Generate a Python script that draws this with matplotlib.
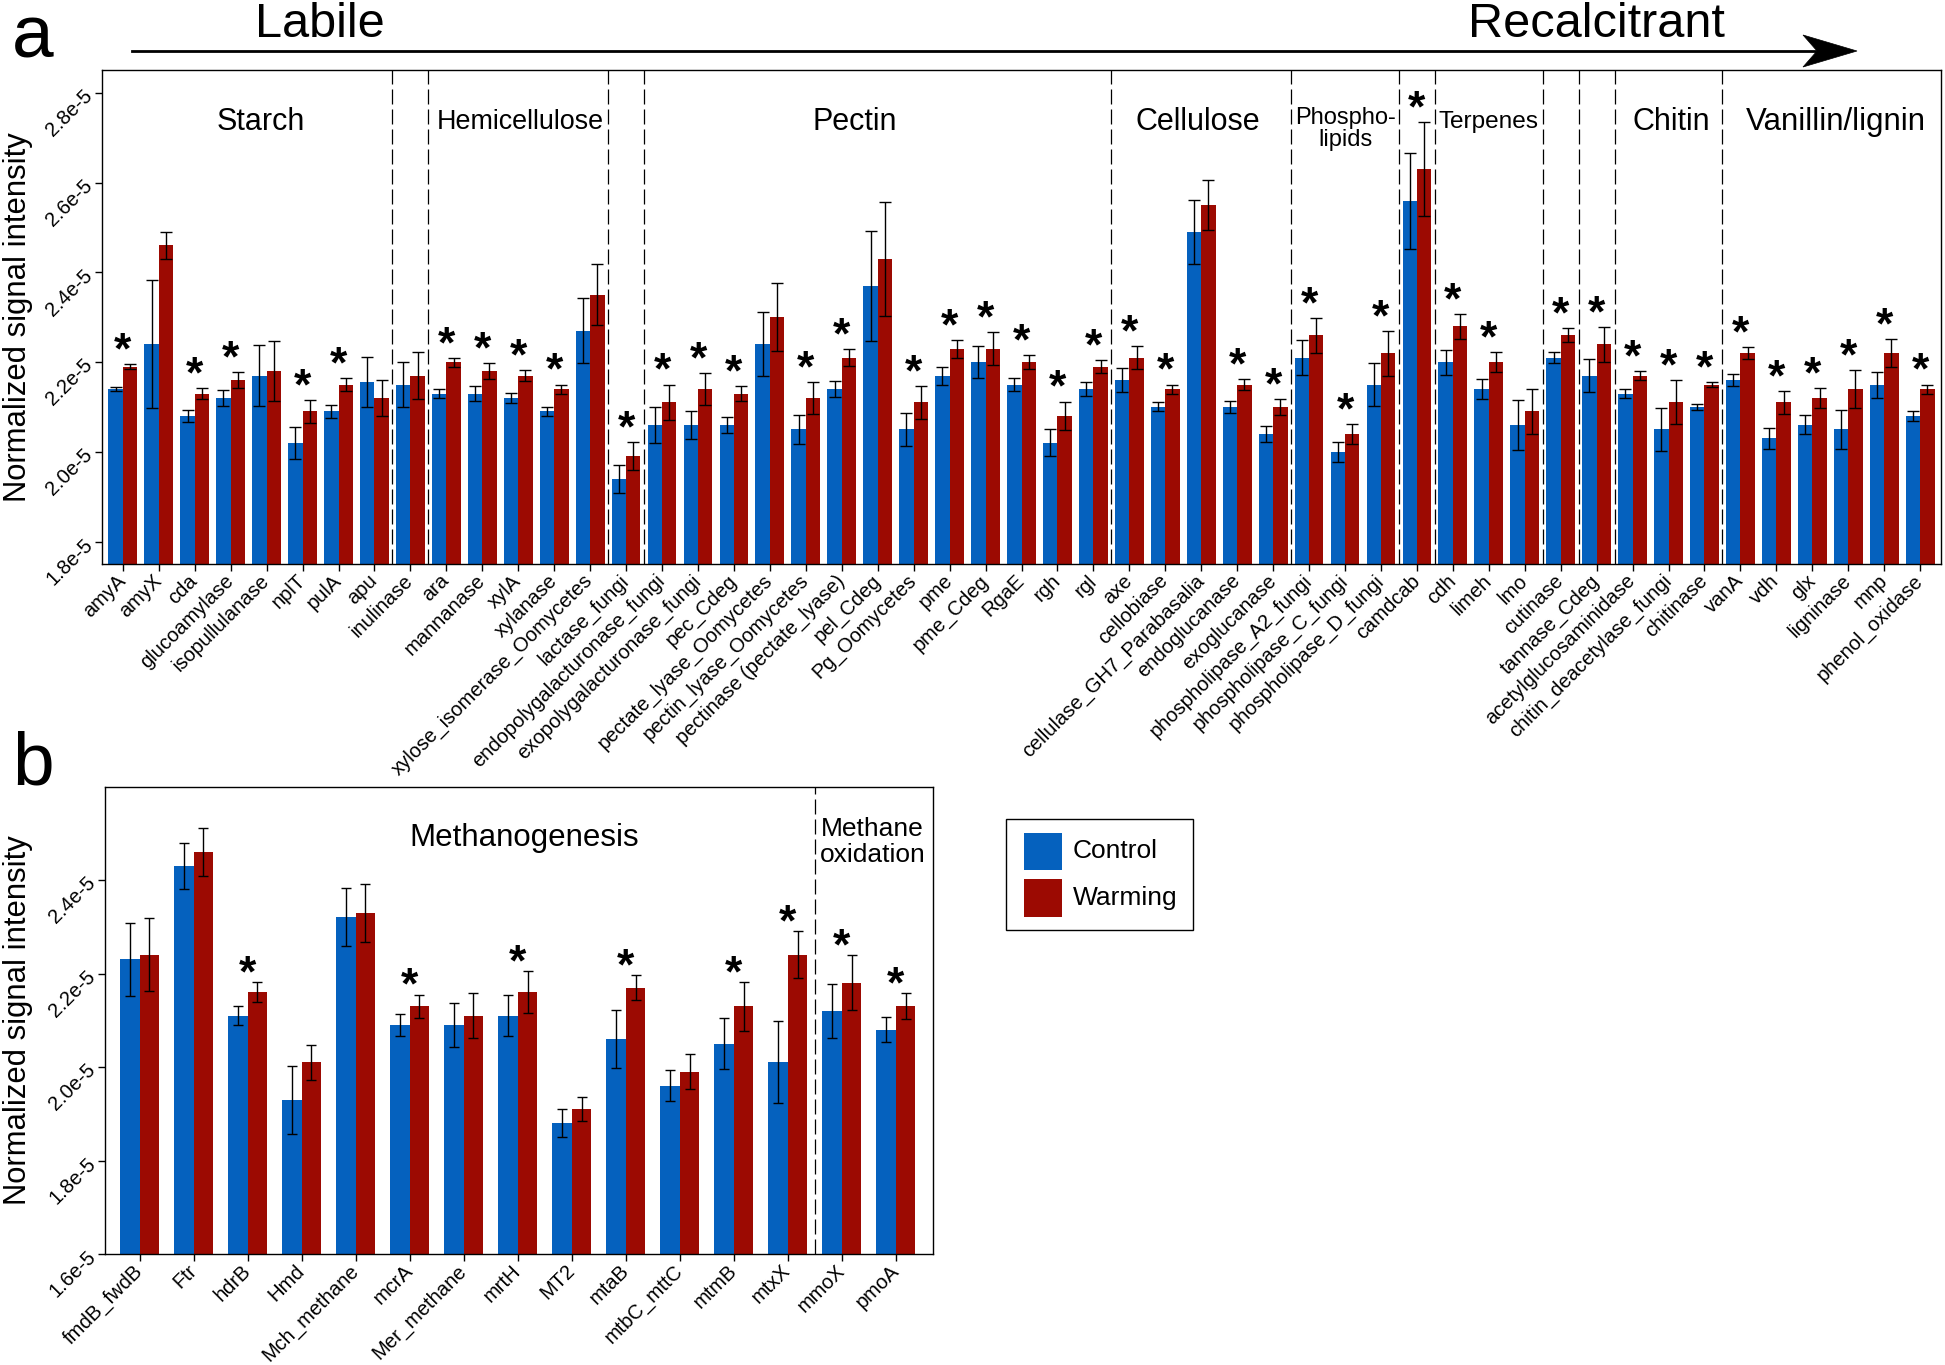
import matplotlib
matplotlib.use("Agg")
import matplotlib.pyplot as plt
import numpy as np
from matplotlib.lines import Line2D
from matplotlib.patches import Polygon, Rectangle
from matplotlib.ticker import FuncFormatter

plt.rcParams["font.family"] = ["Liberation Sans", "DejaVu Sans"]

SCALE = 1e-5
BLUE = "#0561BE"
RED = "#9C0A02"

# ---- panel a: carbon degradation genes (values in units of 1e-5) ----
genes_a = [
    "amyA", "amyX", "cda", "glucoamylase", "isopullulanase", "nplT", "pulA", "apu",
    "inulinase",
    "ara", "mannanase", "xylA", "xylanase", "xylose_isomerase_Oomycetes",
    "lactase_fungi",
    "endopolygalacturonase_fungi", "exopolygalacturonase_fungi", "pec_Cdeg",
    "pectate_lyase_Oomycetes", "pectin_lyase_Oomycetes", "pectinase (pectate_lyase)",
    "pel_Cdeg", "Pg_Oomycetes", "pme", "pme_Cdeg", "RgaE", "rgh", "rgl",
    "axe", "cellobiase", "cellulase_GH7_Parabasalia", "endoglucanase", "exoglucanase",
    "phospholipase_A2_fungi", "phospholipase_C_fungi", "phospholipase_D_fungi",
    "camdcab",
    "cdh", "limeh", "lmo",
    "cutinase",
    "tannase_Cdeg",
    "acetylglucosaminidase", "chitin_deacetylase_fungi", "chitinase",
    "vanA", "vdh", "glx", "ligninase", "mnp", "phenol_oxidase",
]
control_a = [2.14, 2.24, 2.08, 2.12, 2.17, 2.02, 2.09, 2.155,
             2.15,
             2.13, 2.13, 2.12, 2.09, 2.27,
             1.94,
             2.06, 2.06, 2.06, 2.24, 2.05, 2.14, 2.37, 2.05, 2.17, 2.20, 2.15, 2.02, 2.14,
             2.16, 2.10, 2.49, 2.10, 2.04,
             2.21, 2.00, 2.15,
             2.56,
             2.20, 2.14, 2.06,
             2.21,
             2.17,
             2.13, 2.05, 2.10,
             2.16, 2.03, 2.06, 2.05, 2.15, 2.08]
control_err_a = [0.004, 0.143, 0.013, 0.017, 0.067, 0.036, 0.014, 0.056,
                 0.051,
                 0.010, 0.016, 0.012, 0.010, 0.073,
                 0.031,
                 0.040, 0.032, 0.017, 0.071, 0.032, 0.018, 0.123, 0.036, 0.020, 0.036, 0.015, 0.030, 0.015,
                 0.026, 0.010, 0.072, 0.013, 0.017,
                 0.039, 0.023, 0.047,
                 0.107,
                 0.028, 0.022, 0.056,
                 0.013,
                 0.036,
                 0.010, 0.048, 0.007,
                 0.014, 0.023, 0.021, 0.043, 0.029, 0.011]
warming_a = [2.19, 2.46, 2.13, 2.16, 2.18, 2.09, 2.15, 2.12,
             2.17,
             2.20, 2.18, 2.17, 2.14, 2.35,
             1.99,
             2.11, 2.14, 2.13, 2.30, 2.12, 2.21, 2.43, 2.11, 2.23, 2.23, 2.20, 2.08, 2.19,
             2.21, 2.14, 2.55, 2.15, 2.10,
             2.26, 2.04, 2.22,
             2.63,
             2.28, 2.20, 2.09,
             2.26,
             2.24,
             2.17, 2.11, 2.15,
             2.22, 2.11, 2.12, 2.14, 2.22, 2.14]
warming_err_a = [0.005, 0.030, 0.012, 0.018, 0.067, 0.025, 0.015, 0.040,
                 0.052,
                 0.010, 0.017, 0.012, 0.010, 0.068,
                 0.031,
                 0.040, 0.035, 0.017, 0.076, 0.036, 0.019, 0.127, 0.036, 0.020, 0.037, 0.015, 0.032, 0.015,
                 0.025, 0.010, 0.056, 0.012, 0.018,
                 0.039, 0.022, 0.050,
                 0.104,
                 0.028, 0.023, 0.050,
                 0.015,
                 0.039,
                 0.010, 0.049, 0.006,
                 0.014, 0.025, 0.022, 0.043, 0.031, 0.010]
signif_a = [1, 0, 1, 1, 0, 1, 1, 0,
            0,
            1, 1, 1, 1, 0,
            1,
            1, 1, 1, 0, 1, 1, 0, 1, 1, 1, 1, 1, 1,
            1, 1, 0, 1, 1,
            1, 1, 1,
            1,
            1, 1, 0,
            1,
            1,
            1, 1, 1,
            1, 1, 1, 1, 1, 1]
group_sizes_a = [8, 1, 5, 1, 13, 5, 3, 1, 3, 1, 1, 3, 6]
group_text_a = ["Starch", "Hemicellulose", "Pectin", "Cellulose", "Phospho-\nlipids",
                "Terpenes", "Chitin", "Vanillin/lignin"]
group_text_x_a = [3.84, 11.07, 20.35, 29.9, 34.02, 37.99, 43.07, 47.65]
group_text_size_a = [22, 19.4, 22, 22, 17, 17.6, 22, 22.5]

# ---- panel b: methane cycling genes ----
genes_b = ["fmdB_fwdB", "Ftr", "hdrB", "Hmd", "Mch_methane", "mcrA", "Mer_methane",
           "mrtH", "MT2", "mtaB", "mtbC_mttC", "mtmB", "mtxX", "mmoX", "pmoA"]
control_b = [2.23, 2.43, 2.11, 1.93, 2.32, 2.09, 2.09, 2.11, 1.88, 2.06, 1.96, 2.05, 2.01, 2.12, 2.08]
control_err_b = [0.078, 0.049, 0.021, 0.073, 0.062, 0.024, 0.048, 0.044, 0.030, 0.063, 0.033,
                 0.055, 0.088, 0.057, 0.027]
warming_b = [2.24, 2.46, 2.16, 2.01, 2.33, 2.13, 2.11, 2.16, 1.91, 2.17, 1.99, 2.13, 2.24, 2.18, 2.13]
warming_err_b = [0.078, 0.051, 0.021, 0.037, 0.062, 0.025, 0.048, 0.045, 0.026, 0.027, 0.038,
                 0.052, 0.050, 0.059, 0.028]
signif_b = [0, 0, 1, 0, 0, 1, 0, 1, 0, 1, 0, 1, 1, 1, 1]
group_sizes_b = [13, 2]
group_text_b = ["Methanogenesis", "Methane\noxidation"]
group_text_x_b = [7.13, 13.57]
group_text_size_b = [22.5, 19]

W, H = 1945, 1365
fig = plt.figure(figsize=(W / 100, H / 100), dpi=100)


def fx(px):
    return px / W


def fy(py):
    return 1 - py / H


def draw_panel(ax, genes, ctrl, ctrl_err, warm, warm_err, signif, width, xlim, ylim,
               yticks, group_sizes, star_offset, cap):
    x = np.arange(len(genes))
    ctrl = np.array(ctrl) * SCALE
    warm = np.array(warm) * SCALE
    ctrl_err = np.array(ctrl_err) * SCALE
    warm_err = np.array(warm_err) * SCALE

    ax.bar(x - width / 2, ctrl, width, color=BLUE, zorder=2)
    ax.bar(x + width / 2, warm, width, color=RED, zorder=2)
    for xs, ys, es in [(x - width / 2, ctrl, ctrl_err), (x + width / 2, warm, warm_err)]:
        ax.errorbar(xs, ys, yerr=es, fmt="none", ecolor="black", elinewidth=1.0,
                    capsize=cap, capthick=1.0, zorder=3)

    for i in np.flatnonzero(signif):
        top = max(ctrl[i] + ctrl_err[i], warm[i] + warm_err[i])
        ax.annotate("*", (x[i], top), xytext=(0, star_offset), textcoords="offset points",
                    ha="center", va="baseline", fontsize=32, fontweight="bold", zorder=4)

    for b in np.cumsum(group_sizes)[:-1]:
        ax.axvline(b - 0.5, color="black", lw=0.9, dashes=(12, 4), zorder=1)

    ax.set_xlim(*xlim)
    ax.set_ylim(ylim[0] * SCALE, ylim[1] * SCALE)
    ax.set_yticks(np.array(yticks) * SCALE)
    ax.yaxis.set_major_formatter(FuncFormatter(lambda v, p: f"{v / SCALE:.1f}e-5"))
    ax.set_xticks(x)
    ax.set_xticklabels(genes)
    ax.tick_params(axis="both", length=5, width=1.0, labelsize=14.5)
    ax.tick_params(axis="x", pad=5)
    ax.tick_params(axis="y", pad=4)
    for lab in ax.get_xticklabels():
        lab.set(rotation=45, ha="right", va="center", rotation_mode="anchor")
    for lab in ax.get_yticklabels():
        lab.set(rotation=45, ha="right", va="center", rotation_mode="anchor")
    for sp in ax.spines.values():
        sp.set_linewidth(1.0)


# panel a
ax_a = fig.add_axes([fx(102), fy(564), fx(1941) - fx(102), fy(70) - fy(564)])
draw_panel(ax_a, genes_a, control_a, control_err_a, warming_a, warming_err_a, signif_a,
           0.4, (-0.58, len(genes_a) - 0.42), (1.750, 2.851),
           [1.8, 2.0, 2.2, 2.4, 2.6, 2.8], group_sizes_a, 0.5, 4.3)
for t, gx, fs in zip(group_text_a, group_text_x_a, group_text_size_a):
    gy = 2.72 if "\n" in t else 2.735
    ax_a.text(gx, gy * SCALE, t, ha="center", va="center", fontsize=fs, linespacing=0.98)

# panel b
ax_b = fig.add_axes([fx(105), fy(1254), fx(933) - fx(105), fy(787) - fy(1254)])
draw_panel(ax_b, genes_b, control_b, control_err_b, warming_b, warming_err_b, signif_b,
           0.365, (-0.64, len(genes_b) - 0.31), (1.6, 2.599),
           [1.6, 1.8, 2.0, 2.2, 2.4], group_sizes_b, -3, 3.9)
for t, gx, fs in zip(group_text_b, group_text_x_b, group_text_size_b):
    gy = 2.481 if "\n" in t else 2.489
    ax_b.text(gx, gy * SCALE, t, ha="center", va="center", fontsize=fs, linespacing=1.08)

# y labels
for ax, (top, bottom) in [(ax_a, (70, 564)), (ax_b, (787, 1254))]:
    fig.text(fx(18), fy((top + bottom) / 2), "Normalized signal intensity", rotation=90,
             ha="center", va="center", fontsize=22.3)

# panel letters
fig.text(fx(12), fy(57), "a", fontsize=54, ha="left", va="baseline")
fig.text(fx(12), fy(785), "b", fontsize=54, ha="left", va="baseline")

# labile -> recalcitrant arrow
fig.add_artist(Line2D([fx(132), fx(1815)], [fy(51), fy(51)], color="black", lw=2.0,
                      transform=fig.transFigure))
fig.add_artist(Polygon([(fx(1857), fy(51)), (fx(1803), fy(35)), (fx(1817), fy(51)),
                        (fx(1803), fy(67))], closed=True, facecolor="black",
                       edgecolor="black", lw=0.5, transform=fig.transFigure))
fig.text(fx(320), fy(37), "Labile", fontsize=35, ha="center", va="baseline")
fig.text(fx(1596), fy(37), "Recalcitrant", fontsize=35, ha="center", va="baseline")

# legend
fig.add_artist(Rectangle((fx(1006), fy(930)), fx(1193) - fx(1006), fy(819) - fy(930),
                         facecolor="white", edgecolor="black", lw=1.0,
                         transform=fig.transFigure))
for (label, color), (t, b) in zip([("Control", BLUE), ("Warming", RED)],
                                  [(833, 870), (879, 917)]):
    fig.add_artist(Rectangle((fx(1024), fy(b)), fx(1062) - fx(1024), fy(t) - fy(b),
                             facecolor=color, edgecolor="none", transform=fig.transFigure))
    fig.text(fx(1073), fy((t + b) / 2), label, fontsize=19, ha="left", va="center")

fig.savefig("out.png", dpi=100)
